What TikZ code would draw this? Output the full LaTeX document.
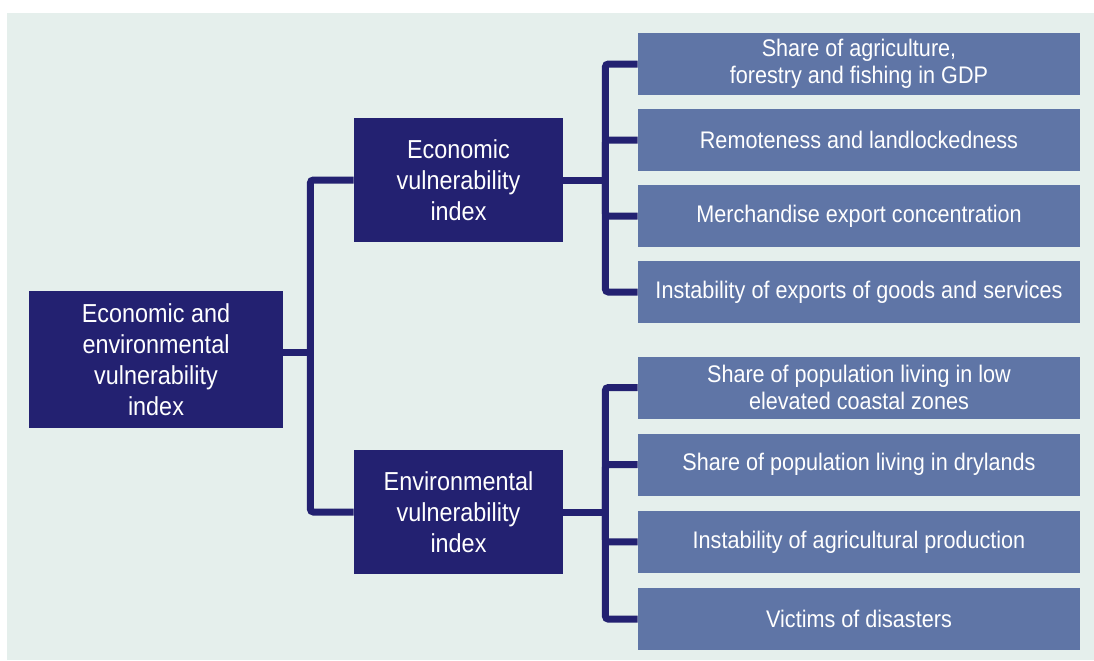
\documentclass[tikz,border=0pt]{standalone}
\usepackage{fontspec}
\setmainfont{Liberation Sans}[FakeStretch=0.9]
\usetikzlibrary{positioning}
\definecolor{navy}{RGB}{35,33,113}
\definecolor{slate}{RGB}{95,117,166}
\definecolor{mint}{RGB}{229,239,236}

\begin{document}
\begin{tikzpicture}[x=0.5pt,y=-0.5pt,
  mainbox/.style={fill=navy,text=white,align=center,inner sep=1pt,
    font=\fontsize{13}{15.5}\selectfont},
  subbox/.style={fill=slate,text=white,align=center,inner sep=1pt,
    minimum width=221pt,minimum height=31pt,font=\fontsize{12}{13.5}\selectfont},
  link/.style={draw=navy,line width=3.5pt,rounded corners=1.5pt}]
\useasboundingbox (0,0) rectangle (1094,660);
\fill[mint] (7,13) rectangle (1094,660);

\node[mainbox,minimum width=127pt,minimum height=68.5pt] (evi) at (156,359.5)
  {Economic and\\environmental\\vulnerability\\index};
\node[mainbox,minimum width=104.5pt,minimum height=62pt] (ecvi) at (458.5,180)
  {Economic\\vulnerability\\index};
\node[mainbox,minimum width=104.5pt,minimum height=62pt] (envi) at (458.5,512)
  {Environmental\\vulnerability\\index};

% economic components
\node[subbox] (ec1) at (859,64) {Share of agriculture,\\forestry and fishing in GDP};
\node[subbox,below=6.6pt of ec1] (ec2) {Remoteness and landlockedness};
\node[subbox,below=6.6pt of ec2] (ec3) {Merchandise export concentration};
\node[subbox,below=6.6pt of ec3] (ec4) {Instability of exports of goods and services};

% environmental components
\node[subbox] (en1) at (859,387.5) {Share of population living in low\\elevated coastal zones};
\node[subbox,below=7.2pt of en1] (en2) {Share of population living in drylands};
\node[subbox,below=7.2pt of en2] (en3) {Instability of agricultural production};
\node[subbox,below=7.2pt of en3] (en4) {Victims of disasters};

\coordinate (evij) at ([xshift=13.5pt,yshift=3.5pt]evi.east);
\draw[link] (ecvi.west) -| (evij) |- (envi.west);
\draw[link] ([yshift=3.5pt]evi.east) -- (evij);
\draw[link] (ecvi.east) -- ++(42,0) coordinate (ecj);
\draw[link] (envi.east) -- ++(42,0) coordinate (enj);
\foreach \i in {1,...,4} {
  \draw[link] (ecj) |- (ec\i.west);
  \draw[link] (enj) |- (en\i.west);
}
\end{tikzpicture}
\end{document}
